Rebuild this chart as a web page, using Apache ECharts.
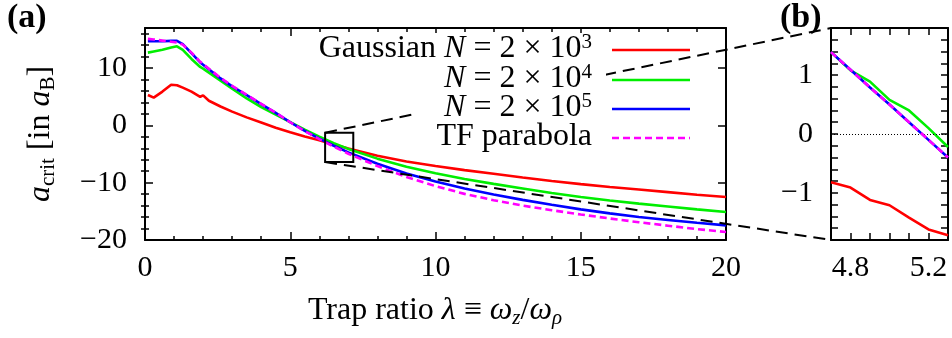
<!DOCTYPE html>
<html>
<head>
<meta charset="utf-8">
<script src="https://cdn.jsdelivr.net/npm/echarts@6/dist/echarts.min.js"></script>
<style>
  html, body { margin: 0; padding: 0; background: #fff; }
  #chart { width: 952px; height: 338px; }
</style>
</head>
<body>
<div id="chart"></div>
<script>
// Trap ratio values (lambda) shared by all curves of panel (a)
const lambda = [0.1, 0.3, 0.6, 0.9, 1.1, 1.3, 1.6, 1.9, 2.0, 2.2, 2.6, 3.0, 3.5, 4.0, 4.5,
  5.0, 5.5, 6.0, 6.5, 7.0, 8, 9, 10, 11, 12, 13, 14, 15, 16, 17, 18, 19, 20];

// a_crit (in a_B) for each model
const gauss2e3 = [5.3, 4.85, 5.9, 7.1, 7.0, 6.6, 5.9, 5.0, 5.25, 4.3, 3.3, 2.4, 1.4, 0.5, -0.4,
  -1.2, -1.95, -2.6, -3.35, -4.05, -5.3, -6.3, -7.1, -7.8, -8.45, -9.1, -9.7, -10.25, -10.75, -11.2, -11.65, -12.1, -12.5];
const gauss2e4 = [12.7, 12.9, 13.2, 13.6, 13.8, 13.2, 11.6, 10.2, 9.9, 9.2, 7.8, 6.4, 4.7, 3.2, 1.9,
  0.58, -0.75, -1.95, -3.1, -4.1, -5.8, -7.2, -8.35, -9.35, -10.2, -11.0, -11.8, -12.5, -13.1, -13.65, -14.15, -14.65, -15.1];
const gauss2e5 = [14.7, 14.7, 14.7, 14.75, 14.75, 14.2, 12.6, 11.0, 10.6, 9.8, 8.2, 6.8, 5.3, 3.7, 2.2,
  0.55, -0.95, -2.3, -3.55, -4.7, -6.7, -8.4, -9.8, -11.0, -12.05, -13.0, -13.85, -14.65, -15.35, -16.0, -16.5, -17.0, -17.45];
const tfParabola = [15.1, 15.0, 14.8, 14.6, 14.45, 14.1, 12.7, 11.1, 10.7, 9.9, 8.3, 6.9, 5.35, 3.75, 2.2,
  0.55, -1.0, -2.4, -3.7, -4.95, -7.1, -9.0, -10.6, -11.95, -13.05, -14.0, -14.8, -15.55, -16.25, -16.9, -17.5, -18.1, -18.6];

// Detail panel (b): finer sampling near the zero crossing
const lambdaDetail = [4.7, 4.8, 4.9, 5.0, 5.1, 5.2, 5.3];
const detail2e3 = [-0.82, -0.91, -1.12, -1.21, -1.42, -1.62, -1.72];
const detail2e4 = [1.39, 1.08, 0.89, 0.58, 0.40, 0.10, -0.22];
const detail2e5 = [1.39, 1.09, 0.79, 0.50, 0.20, -0.10, -0.40];
const detailTF = [1.39, 1.09, 0.79, 0.50, 0.20, -0.10, -0.40];

// Tick values
const xMainLabels = [0, 5, 10, 15, 20];
const yMainMajor = [-20, -10, 0, 10];
const yMainMinor = [-18, -16, -14, -12, -8, -6, -4, -2, 2, 4, 6, 8, 12, 14, 16];
const xDetailLabels = [4.8, 5.2];
const xDetailTicks = [4.8, 4.9, 5.0, 5.1, 5.2];
const yDetailLabels = [-1, 0, 1];
const yDetailTicks = [-1.6, -1.4, -1.2, -1.0, -0.8, -0.6, -0.4, -0.2, 0, 0.2, 0.4, 0.6, 0.8, 1.0, 1.2, 1.4, 1.6];

// Zoom box drawn in panel (a): [xMin, xMax, yMin, yMax]
const zoomBox = [6.2, 7.17, -6.4, -1.27];

const seriesNames = ['Gaussian N = 2×10^3', 'N = 2×10^4', 'N = 2×10^5', 'TF parabola'];
const legendTexts = [
  '{r|Gaussian }{i|N}{r| = 2 × 10}{sup|3}',
  '{i|N}{r| = 2 × 10}{sup|4}',
  '{i|N}{r| = 2 × 10}{sup|5}',
  '{r|TF parabola}'
];
const colors = ['#ff0000', '#00ee00', '#0000ff', '#ff00ff'];

const FONT = '"Liberation Serif", "Times New Roman", serif';
const pairs = (xs, ys) => xs.map((x, i) => [x, ys[i]]);
const fmtNum = v => (v < 0 ? '\u2212' + Math.abs(v) : String(v));

const richStyles = {
  r:   { fontFamily: FONT, fontSize: 32, lineHeight: 35, fill: '#000' },
  i:   { fontFamily: FONT, fontSize: 32, lineHeight: 35, fontStyle: 'italic', fill: '#000' },
  sup: { fontFamily: FONT, fontSize: 21, lineHeight: 19, verticalAlign: 'top', fill: '#000' },
  sub: { fontFamily: FONT, fontSize: 21, lineHeight: 19, verticalAlign: 'bottom', fill: '#000' },
  subi:{ fontFamily: FONT, fontSize: 21, lineHeight: 19, verticalAlign: 'bottom', fontStyle: 'italic', fill: '#000' }
};

const axisLineStyle = { show: true, onZero: false, lineStyle: { color: '#000', width: 2 } };
const tickStyle = { color: '#000', width: 1.5 };
const labelStyle = { fontFamily: FONT, fontSize: 30, color: '#000' };

const chart = echarts.init(document.getElementById('chart'), null, { renderer: 'canvas' });

const mainX = (pos, showLabel) => ({
  type: 'value', gridIndex: 0, position: pos, min: 0, max: 20, interval: 5,
  axisLine: axisLineStyle,
  axisTick: { show: true, inside: true, length: 8, lineStyle: tickStyle },
  minorTick: { show: true, splitNumber: 5, length: 4, lineStyle: tickStyle },
  axisLabel: { show: showLabel, margin: 13, ...labelStyle, customValues: xMainLabels },
  splitLine: { show: false }
});
const mainY = (pos, major) => ({
  type: 'value', gridIndex: 0, position: pos, min: -20, max: 17,
  axisLine: major ? axisLineStyle : { show: false },
  axisTick: { show: true, inside: true, length: major ? 8 : 4, lineStyle: tickStyle,
    customValues: major ? yMainMajor : yMainMinor },
  axisLabel: { show: major && pos === 'left', margin: 18, ...labelStyle,
    customValues: yMainMajor, formatter: fmtNum },
  splitLine: { show: false }
});
const detailX = (pos, showLabel) => ({
  type: 'value', gridIndex: 1, position: pos, min: 4.7, max: 5.3,
  axisLine: axisLineStyle,
  axisTick: { show: true, inside: true, length: 7, lineStyle: tickStyle, customValues: xDetailTicks },
  axisLabel: { show: showLabel, margin: 13, ...labelStyle, customValues: xDetailLabels,
    formatter: v => Number(v).toFixed(1) },
  splitLine: { show: false }
});
const detailY = (pos, showLabel) => ({
  type: 'value', gridIndex: 1, position: pos, min: -1.8, max: 1.8,
  axisLine: axisLineStyle,
  axisTick: { show: true, inside: true, length: 7, lineStyle: tickStyle, customValues: yDetailTicks },
  axisLabel: { show: showLabel, margin: 18, ...labelStyle, customValues: yDetailLabels, formatter: fmtNum },
  splitLine: { show: false }
});

const mainData = [gauss2e3, gauss2e4, gauss2e5, tfParabola];
const detailData = [detail2e3, detail2e4, detail2e5, detailTF];

const series = [];
mainData.forEach((vals, k) => {
  series.push({
    name: seriesNames[k], type: 'line', xAxisIndex: 0, yAxisIndex: 0,
    data: pairs(lambda, vals), showSymbol: false, symbol: 'none', smooth: false,
    lineStyle: { color: colors[k], width: 2.6, type: k === 3 ? [7, 4] : 'solid' },
    z: 2 + k, animation: false
  });
});
detailData.forEach((vals, k) => {
  const s = {
    name: seriesNames[k] + ' (b)', type: 'line', xAxisIndex: 2, yAxisIndex: 4,
    data: pairs(lambdaDetail, vals), showSymbol: false, symbol: 'none',
    lineStyle: { color: colors[k], width: 2.6, type: k === 3 ? [7, 4] : 'solid' },
    z: 2 + k, animation: false
  };
  if (k === 0) {
    s.markLine = {
      silent: true, symbol: 'none', animation: false,
      label: { show: false },
      lineStyle: { color: '#000', width: 1, type: [1, 2] },
      data: [{ yAxis: 0 }]
    };
  }
  series.push(s);
});

chart.setOption({
  animation: false,
  backgroundColor: '#fff',
  grid: [
    { left: 145, top: 28, width: 581, height: 212, containLabel: false },
    { left: 831, top: 28, width: 117, height: 212, containLabel: false }
  ],
  xAxis: [mainX('bottom', true), mainX('top', false), detailX('bottom', true), detailX('top', false)],
  yAxis: [mainY('left', true), mainY('left', false), mainY('right', true), mainY('right', false),
          detailY('left', true), detailY('right', false)],
  series: series
});

// Annotations: zoom box, connectors, key, titles
function drawAnnotations() {
  const p = (idx, pt) => chart.convertToPixel({ seriesIndex: idx }, pt);
  const bl = p(0, [zoomBox[0], zoomBox[2]]);
  const tr = p(0, [zoomBox[1], zoomBox[3]]);
  const insetTop = p(4, [4.7, 1.8]);
  const insetBot = p(4, [4.7, -1.8]);
  const g = [];
  const dash = { stroke: '#000', lineWidth: 2, lineDash: [12, 7] };
  g.push({ type: 'line', z: 20, shape: { x1: bl[0], y1: tr[1], x2: insetTop[0], y2: insetTop[1] }, style: dash });
  g.push({ type: 'line', z: 20, shape: { x1: bl[0], y1: bl[1], x2: insetBot[0], y2: insetBot[1] }, style: dash });
  g.push({ type: 'rect', z: 21, shape: { x: bl[0], y: tr[1], width: tr[0] - bl[0], height: bl[1] - tr[1] },
    style: { fill: null, stroke: '#000', lineWidth: 2 } });
  // opaque key area
  g.push({ type: 'rect', z: 22, shape: { x: 412, y: 33, width: 194, height: 119 }, style: { fill: '#fff' } });
  const rowY = [49, 79, 108, 137];
  legendTexts.forEach((t, k) => {
    g.push({ type: 'text', z: 23, x: 592, y: rowY[k],
      style: { text: t, rich: richStyles, align: 'right', verticalAlign: 'middle' } });
    g.push({ type: 'line', z: 23, shape: { x1: 612, y1: rowY[k] + 1, x2: 690, y2: rowY[k] + 1 },
      style: { stroke: colors[k], lineWidth: 2.6, lineDash: k === 3 ? [7, 4] : null } });
  });
  // axis titles
  g.push({ type: 'text', z: 23, x: 435, y: 311,
    style: { text: '{r|Trap ratio }{i|λ}{r| ≡ }{i|ω}{subi|z}{r|/}{i|ω}{subi|ρ}', rich: richStyles,
      align: 'center', verticalAlign: 'middle' } });
  g.push({ type: 'text', z: 23, x: 41, y: 134, rotation: Math.PI / 2,
    style: { text: '{i|a}{sub|crit}{r| [in }{i|a}{sub|B}{r|]}', rich: richStyles,
      align: 'center', verticalAlign: 'middle' } });
  // panel labels
  const boldFont = 'bold 34px ' + FONT;
  g.push({ type: 'text', z: 24, x: 7, y: 18, style: { text: '(a)', font: boldFont, fill: '#000', verticalAlign: 'middle' } });
  g.push({ type: 'text', z: 24, x: 780, y: 18, style: { text: '(b)', font: boldFont, fill: '#000', verticalAlign: 'middle' } });
  chart.setOption({ graphic: g });
}
drawAnnotations();
</script>
</body>
</html>
